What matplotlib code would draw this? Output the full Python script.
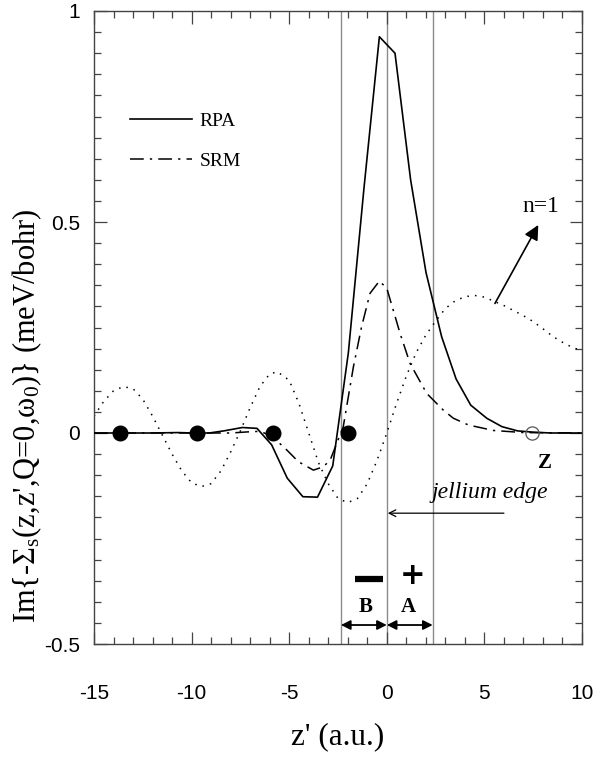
import matplotlib
matplotlib.use("Agg")
import matplotlib.pyplot as plt
import numpy as np

plt.rcParams['axes.unicode_minus'] = False
plt.rcParams['mathtext.fontset'] = 'custom'
plt.rcParams['mathtext.rm'] = 'Liberation Serif'
plt.rcParams['mathtext.it'] = 'Liberation Serif:italic'

# ---------------- data ----------------
rpa_x = [-15, -13.7, -12.1, -10.7, -9.9, -9.1, -8.35, -7.4, -6.65, -5.9, -5.1,
         -4.3, -3.55, -2.77, -1.97, -1.17, -0.38, 0.42, 1.22, 2.01, 2.81,
         3.55, 4.3, 5.12, 5.9, 6.7, 7.5, 8.4, 10]
rpa_y = [0.0, 0.0, 0.0, 0.001, 0.0, 0.0, 0.005, 0.013, 0.011, -0.028, -0.107,
         -0.151, -0.152, -0.078, 0.19, 0.58, 0.939, 0.90, 0.60, 0.38, 0.228,
         0.128, 0.066, 0.035, 0.015, 0.005, 0.002, 0.0, 0.0]

srm_x = [-15, -13, -11, -9, -8, -7, -6.5, -6, -5.3, -4.53, -3.76, -3.25, -2.9,
         -2.23, -1.71, -1.29, -0.86, -0.38, 0.0, 0.68, 1.19, 2.04, 2.9, 3.41,
         4.18, 5.46, 7.0, 10]
srm_y = [0.0, 0.0, 0.0, 0.0, 0.0, 0.003, 0.004, -0.005, -0.032, -0.068, -0.088,
         -0.080, -0.064, 0.015, 0.157, 0.252, 0.331, 0.360, 0.343, 0.236, 0.165,
         0.094, 0.054, 0.035, 0.019, 0.006, 0.001, 0.0]

n1_x = [-15, -14.5, -14, -13.5, -13, -12.5, -12, -11.5, -11, -10.5, -10, -9.5,
        -9, -8.5, -8, -7.5, -7, -6.5, -6, -5.6, -5, -4.5, -4, -3.5, -3, -2.5,
        -2, -1.5, -1, -0.5, 0, 0.5, 1, 1.5, 2, 2.5, 3, 3.5, 4, 4.5, 5, 5.5, 6,
        6.5, 7, 7.5, 8, 8.5, 9, 9.5, 10]
n1_y = [0.04, 0.075, 0.10, 0.11, 0.105, 0.08, 0.04, -0.005, -0.05, -0.09,
        -0.118, -0.127, -0.12, -0.09, -0.045, 0.005, 0.06, 0.11, 0.14, 0.145,
        0.125, 0.07, 0.0, -0.07, -0.12, -0.155, -0.165, -0.155, -0.12, -0.065,
        0.0, 0.07, 0.135, 0.19, 0.232, 0.265, 0.295, 0.313, 0.323, 0.326,
        0.322, 0.312, 0.302, 0.29, 0.278, 0.264, 0.247, 0.229, 0.215, 0.203,
        0.195]

atoms_x = [-13.67, -9.74, -5.85, -1.97]
atoms_y = [0, 0, 0, 0]
z_x = [7.42]
z_y = [0]

region_lines = [-2.35, 0.0, 2.35]

xticks = [-15, -10, -5, 0, 5, 10]
xticklabels = ['-15', '-10', '-5', '0', '5', '10']
yticks = [-0.5, 0, 0.5, 1]
yticklabels = ['-0.5', '0', '0.5', '1']

# ---------------- figure ----------------
W, H = 611, 758
fig = plt.figure(figsize=(W / 100, H / 100), dpi=100)
ax = fig.add_axes([94 / W, (H - 644) / H, 488 / W, 633 / H])

for xv in region_lines:
    ax.axvline(xv, color='#8a8a8a', lw=1.0, zorder=1)

ax.plot(n1_x, n1_y, color='black', lw=1.1, linestyle=(0, (1, 4)), zorder=2)
srm_line, = ax.plot(srm_x, srm_y, color='black', lw=1.1,
                    linestyle=(0, (9, 4, 1.5, 4)), zorder=3)
rpa_line, = ax.plot(rpa_x, rpa_y, color='black', lw=1.2, zorder=4)

ax.plot(atoms_x, atoms_y, 'o', color='black', ms=10.5, zorder=5)
ax.plot(z_x, z_y, 'o', mfc='none', mec='#555555', mew=0.9, ms=9.5, zorder=5)

ax.set_xlim(-15, 10)
ax.set_ylim(-0.5, 1)
ax.set_xticks(xticks)
ax.set_xticklabels(xticklabels)
ax.set_yticks(yticks)
ax.set_yticklabels(yticklabels)
ax.set_xticks(np.arange(-15, 10.5, 1), minor=True)
ax.set_yticks(np.arange(-0.5, 1.01, 0.05), minor=True)
ax.tick_params(which='both', direction='in', top=True, right=True,
               color='#444444', width=0.9)
ax.tick_params(which='major', length=9)
ax.tick_params(which='minor', length=5)
ax.tick_params(axis='x', which='major', pad=29)
ax.tick_params(axis='y', which='major', pad=10)
for lab in ax.get_xticklabels() + ax.get_yticklabels():
    lab.set_family('Liberation Sans')
    lab.set_fontsize(15)
for sp in ax.spines.values():
    sp.set_color('#444444')
    sp.set_linewidth(1.0)

serif = 'Liberation Serif'

# legend (manual placement)
ax.legend(handles=[rpa_line, srm_line], labels=['RPA', 'SRM'],
          loc='upper left', bbox_to_anchor=(112 / W, (H - 95) / H),
          bbox_transform=fig.transFigure, frameon=False,
          prop={'family': serif, 'size': 14},
          handlelength=3.2, handletextpad=0.4, labelspacing=1.15)

ax.set_xlabel("z' (a.u.)", family=serif, fontsize=22.5)
ax.xaxis.set_label_coords(0.5, -(737 - 644) / 633, transform=ax.transAxes)
ax.xaxis.label.set_va('center')

fig.text(27 / W, 1 - 416 / H,
         r"Im{-Σ$_\mathrm{s}$(z,z',Q=0,ω$_0$)} (meV/bohr)",
         rotation=90, ha='center', va='center', family=serif, fontsize=22)

# n=1 annotation
ax.annotate('', xy=(7.76, 0.493), xytext=(5.54, 0.307),
            arrowprops=dict(arrowstyle='-|>', color='black', lw=1.2,
                            mutation_scale=22, shrinkA=0, shrinkB=0))
ax.text(7.9, 0.537, 'n=1', family=serif, fontsize=17, ha='center',
        va='center')

# jellium edge
ax.annotate('', xy=(0.05, -0.19), xytext=(6.0, -0.19),
            arrowprops=dict(arrowstyle='->', color='black', lw=0.9,
                            mutation_scale=12, shrinkA=0, shrinkB=0))
ax.text(5.3, -0.165, 'jellium edge', family=serif, style='italic',
        fontsize=17, ha='center', va='bottom')

ax.text(8.1, -0.07, 'Z', family=serif, weight='bold', fontsize=15,
        ha='center', va='center')

# B / A regions
ax.annotate('', xy=(-2.35, -0.455), xytext=(0, -0.455),
            arrowprops=dict(arrowstyle='<|-|>', color='black', lw=1.3,
                            mutation_scale=14, shrinkA=0, shrinkB=0))
ax.annotate('', xy=(0, -0.455), xytext=(2.35, -0.455),
            arrowprops=dict(arrowstyle='<|-|>', color='black', lw=1.3,
                            mutation_scale=14, shrinkA=0, shrinkB=0))
ax.text(-1.1, -0.412, 'B', family=serif, weight='bold', fontsize=15,
        ha='center', va='center')
ax.text(1.1, -0.412, 'A', family=serif, weight='bold', fontsize=15,
        ha='center', va='center')
ax.plot([-1.62, -0.2], [-0.347, -0.347], color='black', lw=4.5,
        solid_capstyle='butt', zorder=6)
ax.text(1.32, -0.337, '+', family='DejaVu Sans', weight='bold', fontsize=22,
        ha='center', va='center')

fig.savefig('out.png', dpi=100)
